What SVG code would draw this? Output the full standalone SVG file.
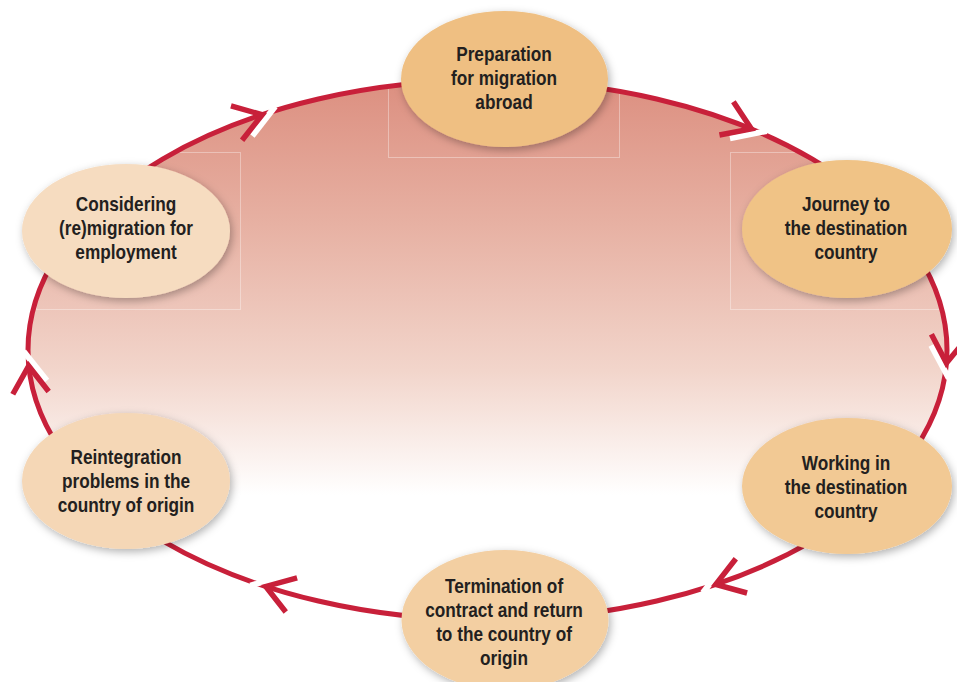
<svg xmlns="http://www.w3.org/2000/svg" xmlns:xlink="http://www.w3.org/1999/xlink" width="957" height="682" viewBox="0 0 957 682">
  <defs>
    <linearGradient id="bg" gradientUnits="userSpaceOnUse" x1="0" y1="80" x2="0" y2="495">
      <stop offset="0" stop-color="#dc8f80"/>
      <stop offset="0.35" stop-color="#e7b1a3"/>
      <stop offset="0.7" stop-color="#f2d5cb"/>
      <stop offset="1" stop-color="#ffffff"/>
    </linearGradient>
    <clipPath id="clipBig">
      <ellipse cx="487.5" cy="350" rx="457" ry="267.5"/>
    </clipPath>
    <filter id="shadow" x="-20%" y="-20%" width="140%" height="150%">
      <feDropShadow dx="2" dy="3" stdDeviation="4" flood-color="#000" flood-opacity="0.3"/>
    </filter>
    <g id="head">
      <line class="gap" x1="11" y1="-4" x2="-20" y2="17"/>
      <polyline class="chev" points="-31,-18 -4,0 -31,18"/>
    </g>
    <style>
      .gap { stroke: #ffffff; stroke-width: 6; fill: none; }
      .chev { stroke: #c8203a; stroke-width: 5.5; fill: none; stroke-linejoin: miter; stroke-linecap: butt; }
      .node text { font-family: "Liberation Sans", Arial, sans-serif; font-weight: bold; font-size: 21px; fill: #231f20; text-anchor: middle; }
      .frame { fill: none; stroke: #ffffff; stroke-opacity: 0.35; stroke-width: 1; }
    </style>
  </defs>

  <g id="cycle">
    <ellipse cx="487.5" cy="350" rx="459.5" ry="270" fill="url(#bg)"/>
    <g clip-path="url(#clipBig)">
      <rect class="frame" x="388.5" y="84.5" width="231" height="73"/>
      <rect class="frame" x="36.5" y="152.5" width="204" height="157"/>
      <rect class="frame" x="730.5" y="152.5" width="210" height="157"/>
    </g>
  </g>

  <g id="connectors">
    <ellipse cx="487.5" cy="350" rx="459.5" ry="270" fill="none" stroke="#c8203a" stroke-width="5"/>
    <use xlink:href="#head" transform="translate(266,113.5) rotate(-18)"/>
    <use xlink:href="#head" transform="translate(755,130.4) rotate(22.8)"/>
    <use xlink:href="#head" transform="translate(946,367) rotate(96.1)"/>
    <use xlink:href="#head" transform="translate(712,585.6) rotate(161.8)"/>
    <use xlink:href="#head" transform="translate(262,585.2) rotate(198.3)"/>
    <use xlink:href="#head" transform="translate(28.4,362) rotate(265.7)"/>
  </g>

  <g id="n1" class="node">
    <ellipse cx="504.5" cy="79" rx="103.5" ry="68" fill="#efbf82" filter="url(#shadow)"/>
    <g transform="translate(504,0) scale(0.82,1)">
      <text x="0" y="61">Preparation</text>
      <text x="0" y="85">for migration</text>
      <text x="0" y="109">abroad</text>
    </g>
  </g>
  <g id="n2" class="node">
    <ellipse cx="847" cy="229" rx="105" ry="69" fill="#f0c386" filter="url(#shadow)"/>
    <g transform="translate(846,0) scale(0.82,1)">
      <text x="0" y="211">Journey to</text>
      <text x="0" y="235">the destination</text>
      <text x="0" y="259">country</text>
    </g>
  </g>
  <g id="n3" class="node">
    <ellipse cx="847" cy="486" rx="105" ry="68" fill="#f2c994" filter="url(#shadow)"/>
    <g transform="translate(846,0) scale(0.82,1)">
      <text x="0" y="470">Working in</text>
      <text x="0" y="494">the destination</text>
      <text x="0" y="518">country</text>
    </g>
  </g>
  <g id="n4" class="node">
    <ellipse cx="505" cy="620" rx="103.5" ry="70" fill="#f3cfa2" filter="url(#shadow)"/>
    <g transform="translate(504,0) scale(0.82,1)">
      <text x="0" y="593">Termination of</text>
      <text x="0" y="617">contract and return</text>
      <text x="0" y="641">to the country of</text>
      <text x="0" y="665">origin</text>
    </g>
  </g>
  <g id="n5" class="node">
    <ellipse cx="126" cy="481" rx="104" ry="68" fill="#f5d7b6" filter="url(#shadow)"/>
    <g transform="translate(126,0) scale(0.82,1)">
      <text x="0" y="464">Reintegration</text>
      <text x="0" y="488">problems in the</text>
      <text x="0" y="512">country of origin</text>
    </g>
  </g>
  <g id="n6" class="node">
    <ellipse cx="126" cy="231" rx="104" ry="67" fill="#f6dcc0" filter="url(#shadow)"/>
    <g transform="translate(126,0) scale(0.82,1)">
      <text x="0" y="211">Considering</text>
      <text x="0" y="235">(re)migration for</text>
      <text x="0" y="259">employment</text>
    </g>
  </g>
</svg>
